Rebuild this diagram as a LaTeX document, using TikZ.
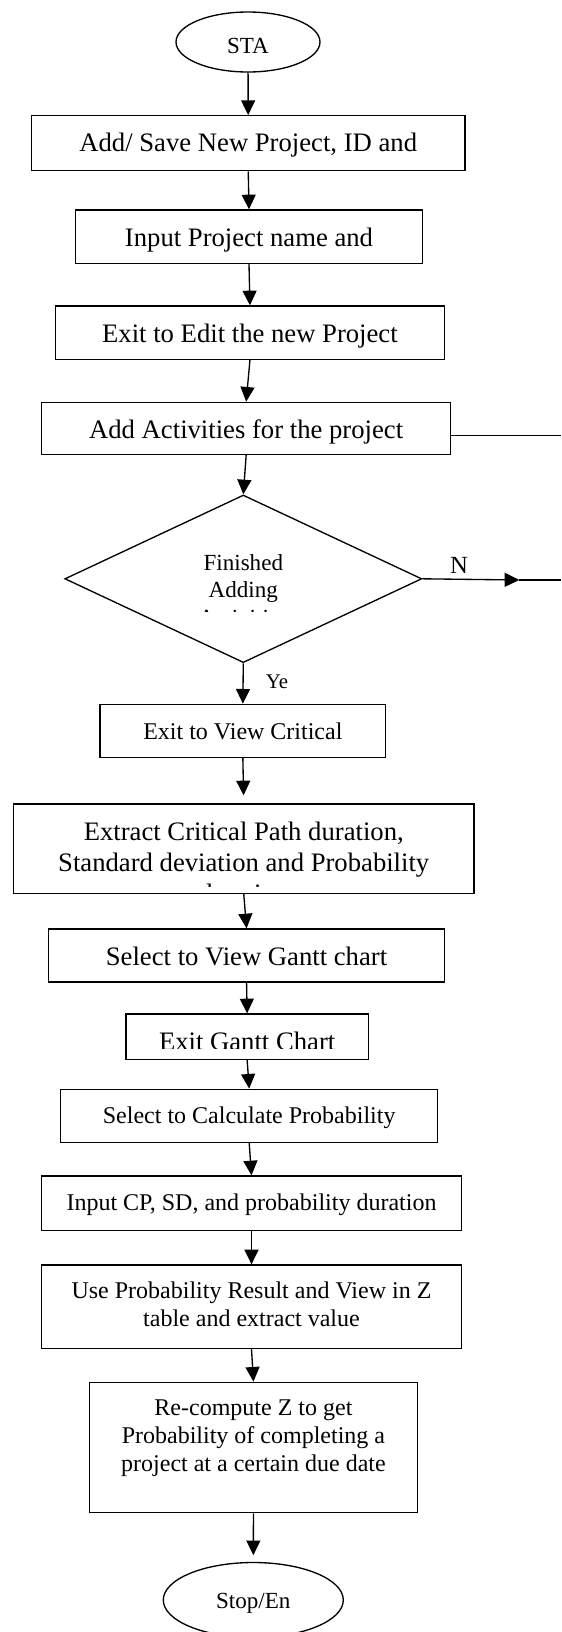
\documentclass[tikz,border=0pt]{standalone}
\usepackage{fontspec}
\setmainfont{Liberation Serif}
\usetikzlibrary{arrows.meta,shapes.geometric}
\begin{document}
\begin{tikzpicture}[x=0.75pt,y=-0.75pt,
  line width=1pt,
  rbox/.style n args={2}{draw, rectangle, inner sep=0pt, minimum width=#1*0.75pt, minimum height=#2*0.75pt},
  oval/.style n args={2}{draw, ellipse, inner sep=0pt, minimum width=#1*0.75pt, minimum height=#2*0.75pt},
  arr/.style={-{Triangle[length=11pt,width=10.5pt]}},
  big/.style={anchor=base, inner sep=0pt, font=\fontsize{20}{24}\selectfont},
  mid/.style={anchor=base, inner sep=0pt, font=\fontsize{18}{21}\selectfont},
  sml/.style={anchor=base, inner sep=0pt, font=\fontsize{17.3}{21}\selectfont},
]
\useasboundingbox (0,0) rectangle (561,1632);

% shapes
\node[oval={144}{60}] (sta) at (248,42) {};
\node[rbox={433.5}{55}] (b1) at (248.25,143.2) {};
\node[rbox={347}{53.3}] (b2) at (249,236.65) {};
\node[rbox={388.9}{53.3}] (b3) at (249.95,332.65) {};
\node[rbox={409.3}{52.2}] (b4) at (246.15,428.4) {};
\node[draw, diamond, inner sep=0pt, minimum width=357*0.75pt, minimum height=167.6*0.75pt] (d) at (243.3,578.8) {};
\node[rbox={285.7}{53}] (b5) at (242.85,730.8) {};
\node[rbox={460.5}{89.3}] (b6) at (243.75,848.65) {};
\node[rbox={395.7}{53}] (b7) at (246.55,955.5) {};
\node[rbox={242.3}{45.3}] (b8) at (247.15,1036.65) {};
\node[rbox={376.8}{53.2}] (b9) at (249.2,1115.9) {};
\node[rbox={420}{54.7}] (b10) at (251.5,1203.35) {};
\node[rbox={420}{83.3}] (b11) at (251.5,1306.65) {};
\node[rbox={328.1}{130.4}] (b12) at (253.45,1447.5) {};
\node[oval={180}{75}] (stop) at (253.3,1600) {};

% texts
\node[sml] (tsta) at (248,53.3) {STA};
\node[big] (t1) at (248.25,151.7) {Add/ Save New Project, ID and};
\node[big] (t2) at (249,246.7) {Input Project name and};
\node[big] (t3) at (249.95,342.7) {Exit to Edit the new Project};
\node[big] (t4) at (246.15,438.3) {Add Activities for the project};
\node[sml] (td1) at (243.3,570) {Finished};
\node[sml] (td2) at (243.3,597.5) {Adding};
\begin{scope}
  \clip (100,540) rectangle (390,611);
  \node[sml] (td3) at (243.3,625) {Activities};
\end{scope}
\node[anchor=base, inner sep=0pt, font=\fontsize{18.5}{21}\selectfont] (tn) at (459,573.3) {N};
\node[anchor=base, inner sep=0pt, font=\fontsize{15.6}{19}\selectfont] (tye) at (277,688.3) {Ye};
\node[mid] (t5) at (242.85,739) {Exit to View Critical};
\node[big] (t6a) at (243.75,840) {Extract Critical Path duration,};
\node[big] (t6b) at (243.75,871) {Standard deviation and Probability};
\begin{scope}
  \clip (20,880) rectangle (470,886);
  \node[big] (t6c) at (243.75,902) {duration};
\end{scope}
\node[big] (t7) at (246.55,965) {Select to View Gantt chart};
\begin{scope}
  \clip (130,1016) rectangle (365,1048.5);
  \node[big] (t8) at (247.15,1050) {Exit Gantt Chart};
\end{scope}
\node[mid] (t9) at (249.2,1123.3) {Select to Calculate Probability};
\node[mid] (t10) at (251.5,1210) {Input CP, SD, and probability duration};
\node[mid] (t11a) at (251.5,1298.3) {Use Probability Result and View in Z};
\node[mid] (t11b) at (251.5,1326.7) {table and extract value};
\node[mid] (t12a) at (253.45,1415.5) {Re-compute Z to get};
\node[mid] (t12b) at (253.45,1443.3) {Probability of completing a};
\node[mid] (t12c) at (253.45,1471) {project at a certain due date};
\node[sml] (tstop) at (253.3,1608) {Stop/En};

% connectors
\coordinate (le) at (561,435.7);
\coordinate (nt) at (519.3,580);
\coordinate (ne) at (561,580);
\draw[arr] (sta) -- (b1);
\draw[arr] (b1.south) -- (b2.north);
\draw[arr] (b2.south) -- (b3.north);
\draw[arr] (b3.south) -- (b4.north);
\draw[arr] (b4.south) -- (d.north);
\draw[arr] (d.south) -- (b5.north);
\draw[arr, shorten >=6pt] (b5.south) -- (b6.north);
\draw[arr] (b6.south) -- (b7.north);
\draw[arr] (b7.south) -- (b8.north);
\draw[arr] (b8.south) -- (b9.north);
\draw[arr] (b9.south) -- (b10.north);
\draw[arr] (b10.south) -- (b11.north);
\draw[arr] (b11.south) -- (b12.north);
\draw[arr, shorten >=5pt] (b12.south) -- (stop.north);
\draw (le -| b4.east) -- (le);
\draw[arr] (d.east) -- (nt);
\draw (nt) -- (ne);
\end{tikzpicture}
\end{document}
